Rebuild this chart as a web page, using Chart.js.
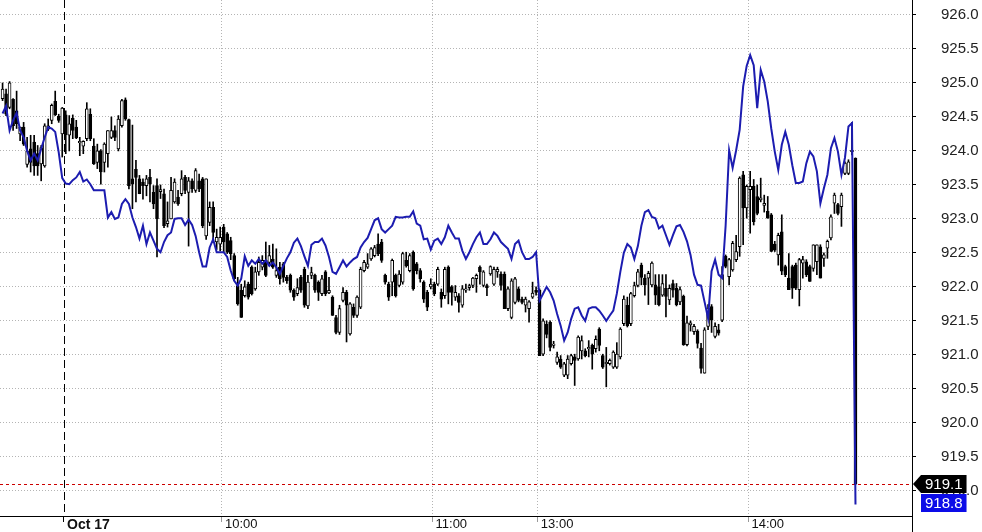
<!DOCTYPE html>
<html>
<head>
<meta charset="utf-8">
<script src="https://cdn.jsdelivr.net/npm/chart.js@4.4.1/dist/chart.umd.min.js"></script>
<style>
  html, body { margin: 0; padding: 0; background: #fff; }
  canvas { display: block; }
</style>
</head>
<body>
<canvas id="priceChart" width="982" height="532" style="width:982px;height:532px"></canvas>
<script>
// one bar per minute; index 0 is the 9:15 bar of Oct 17, negatives are the previous session
const firstBar = -18;

const openP = [
  924.77,924.84,924.64,924.76,924.59,924.25,924.35,923.80,924.03,924.13,
  923.96,923.81,923.78,924.32,924.45,924.73,924.51,924.25,924.53,924.23,
  924.48,924.35,924.12,924.07,924.18,924.54,924.07,923.83,924.00,923.83,
  923.96,924.20,924.30,924.03,924.37,924.75,924.46,923.59,923.73,923.59,
  923.54,923.49,923.61,923.39,923.49,923.40,923.37,922.93,923.00,923.25,
  923.32,923.37,923.61,923.39,923.56,923.42,923.56,923.59,922.75,922.95,
  923.17,922.66,922.63,922.88,922.78,922.68,922.46,922.02,921.95,921.87,
  922.04,922.29,921.97,922.22,922.29,922.39,922.36,922.41,922.17,922.29,
  922.34,922.14,922.17,921.95,921.90,922.14,922.26,921.72,922.17,922.17,
  922.07,921.90,922.22,921.91,921.85,921.55,921.33,921.80,921.92,921.31,
  921.70,921.58,921.70,922.24,922.29,922.41,922.46,922.63,922.66,922.17,
  922.04,922.07,922.17,922.02,922.07,922.39,922.24,922.51,922.34,922.24,
  922.07,921.92,922.00,922.04,922.04,921.92,921.87,922.29,922.00,921.85,
  921.87,921.73,921.95,921.99,922.02,922.12,922.29,922.02,922.02,922.19,
  922.04,922.22,922.19,922.19,921.68,921.55,921.77,921.97,921.82,921.73,
  921.68,921.85,921.95,921.95,921.01,921.45,921.48,921.14,920.89,920.94,
  920.70,920.70,920.87,920.97,920.94,921.06,921.06,921.09,921.14,921.09,
  921.38,920.99,920.87,920.87,920.82,920.82,920.97,921.46,921.73,921.46,
  921.87,922.02,922.32,922.13,922.13,922.03,922.03,922.00,921.88,921.98,
  921.81,922.05,921.98,921.78,921.86,921.15,921.44,921.34,921.35,921.10,
  920.73,921.42,921.71,921.27,921.37,921.51,922.45,922.15,922.25,922.40,
  922.59,923.65,923.16,923.43,923.48,923.33,923.28,923.20,923.11,923.06,
  922.63,922.47,922.81,922.30,922.13,922.30,922.32,921.96,922.35,922.37,
  922.30,922.27,922.37,922.59,922.42,922.57,922.72,923.23,923.21,923.18,
  923.67,923.67,923.99,923.89
];
const highP = [
  925.00,924.91,925.02,924.77,924.88,924.35,924.42,924.20,924.23,924.23,
  924.08,924.08,924.40,924.47,924.69,924.88,924.54,924.64,924.59,924.52,
  924.53,924.45,924.20,924.15,924.71,924.62,924.18,924.10,924.02,924.12,
  924.30,924.50,924.37,924.52,924.76,924.78,924.47,924.38,923.86,923.64,
  923.59,923.64,923.73,923.49,923.59,923.50,923.44,923.25,923.61,923.59,
  923.42,923.71,923.64,923.61,923.59,923.74,923.66,923.61,923.59,923.25,
  923.25,922.85,922.88,922.92,922.80,922.73,922.49,922.14,922.04,922.09,
  922.07,922.31,922.29,922.44,922.46,922.66,922.61,922.63,922.56,922.36,
  922.36,922.17,922.19,921.97,922.12,922.17,922.29,922.17,922.29,922.19,
  922.09,922.17,922.24,922.14,921.87,921.58,921.73,921.99,921.95,921.77,
  921.75,921.87,922.29,922.39,922.49,922.58,922.61,922.78,922.70,922.19,
  922.07,922.41,922.19,922.24,922.51,922.51,922.49,922.53,922.36,922.27,
  922.09,921.95,922.12,922.07,922.29,921.97,922.29,922.31,922.02,922.02,
  921.90,922.02,922.04,922.04,922.14,922.19,922.31,922.24,922.04,922.31,
  922.29,922.29,922.22,922.22,922.00,922.12,922.14,922.00,921.85,921.85,
  921.80,922.07,922.00,921.97,921.53,921.50,921.50,921.20,921.04,920.99,
  920.89,920.99,921.01,921.01,921.28,921.28,921.09,921.21,921.16,921.28,
  921.40,921.01,921.11,920.94,921.06,921.18,921.40,921.87,921.85,921.92,
  922.07,922.26,922.35,922.18,922.23,922.37,922.18,922.18,922.18,922.18,
  922.03,922.10,922.05,922.00,921.88,921.57,921.50,921.45,921.37,921.17,
  921.40,921.74,921.74,921.47,921.45,922.30,922.47,922.42,922.67,922.76,
  923.62,923.70,923.50,923.70,923.58,923.50,923.60,923.35,923.33,923.08,
  922.67,922.79,923.06,922.32,922.49,922.32,922.35,922.42,922.45,922.40,
  922.32,922.62,922.62,922.62,922.50,922.69,923.06,923.38,923.23,923.38,
  923.84,923.87,924.42,923.90
];
const lowP = [
  924.74,924.52,924.62,924.30,924.33,924.15,924.08,923.76,923.69,923.64,
  923.64,923.56,923.76,924.30,924.40,924.52,924.42,923.91,923.96,924.00,
  924.18,924.18,923.93,923.96,924.15,924.15,923.80,923.74,923.51,923.69,
  923.76,924.18,924.15,924.00,924.35,924.45,923.44,923.15,923.25,923.37,
  923.29,923.34,923.25,923.15,922.44,923.30,922.87,922.88,923.00,923.23,
  923.20,923.34,923.37,922.60,923.39,923.39,923.40,922.87,922.70,922.90,
  922.65,922.55,922.53,922.51,922.49,922.40,922.09,921.73,921.55,921.85,
  921.82,921.88,921.95,922.17,922.25,922.15,922.34,922.27,922.14,922.04,
  922.07,922.05,921.92,921.80,921.87,921.92,921.70,921.68,922.12,921.92,
  921.80,921.87,921.87,921.90,921.58,921.31,921.30,921.78,921.19,921.29,
  921.55,921.55,921.68,922.22,922.27,922.39,922.44,922.46,922.36,922.04,
  921.80,921.87,921.85,922.00,922.04,922.29,922.22,921.95,922.19,922.07,
  921.77,921.65,921.97,921.87,922.02,921.70,921.83,921.75,921.73,921.80,
  921.63,921.70,921.92,921.95,921.99,921.92,922.04,922.00,921.87,922.17,
  922.02,922.14,921.95,921.68,921.65,921.53,921.75,921.78,921.75,921.63,
  921.48,921.83,921.88,920.99,920.99,921.25,921.06,921.10,920.86,920.80,
  920.68,920.65,920.85,920.55,920.92,920.94,920.97,920.97,920.79,921.04,
  921.06,920.80,920.53,920.85,920.80,920.80,920.94,921.43,921.41,921.43,
  921.85,922.00,922.03,921.88,921.74,922.00,921.74,921.72,921.86,921.56,
  921.74,921.85,921.72,921.74,921.14,921.13,921.35,921.30,921.10,920.73,
  920.73,921.37,921.33,921.25,921.29,921.49,922.28,922.03,922.23,922.37,
  922.45,922.62,923.01,922.79,922.91,923.06,923.25,923.10,923.01,922.52,
  922.52,922.32,922.18,922.15,921.96,921.83,921.96,921.72,922.13,922.15,
  922.08,922.23,922.18,922.13,922.30,922.42,922.69,923.08,923.06,922.89,
  923.65,923.65,923.94,919.10
];
const closeP = [
  924.91,924.54,925.00,924.37,924.40,924.35,924.10,924.00,923.83,923.78,
  923.78,924.05,924.37,924.37,924.67,924.53,924.45,924.63,924.24,924.40,
  924.30,924.19,924.14,924.14,924.62,924.18,923.81,924.00,923.69,924.10,
  924.30,924.30,924.20,924.47,924.74,924.47,923.49,923.51,923.61,923.37,
  923.49,923.59,923.51,923.22,923.00,923.43,922.90,922.97,923.42,923.54,
  923.22,923.59,923.42,923.56,923.44,923.71,923.44,922.90,923.59,923.17,
  922.80,922.73,922.73,922.66,922.51,922.49,922.12,921.75,921.55,922.00,
  921.85,921.90,922.22,922.36,922.39,922.17,922.46,922.29,922.24,922.12,
  922.14,922.09,921.95,921.85,921.99,921.95,921.73,922.07,922.21,921.95,
  921.92,922.12,921.90,921.95,921.58,921.33,921.68,921.92,921.73,921.75,
  921.58,921.85,922.26,922.36,922.34,922.56,922.58,922.49,922.39,922.07,
  921.85,922.39,921.87,922.19,922.49,922.31,922.46,921.97,922.24,922.12,
  921.82,921.70,922.04,921.90,922.26,921.82,922.26,921.92,921.92,921.92,
  921.77,921.97,921.97,922.02,922.13,922.17,922.22,922.22,921.99,922.30,
  922.26,922.26,922.02,921.68,921.97,922.09,922.12,921.80,921.77,921.82,
  921.78,921.91,921.92,920.99,921.50,921.30,921.11,921.16,920.97,920.82,
  920.87,920.94,920.99,920.92,921.26,921.21,920.99,921.11,921.01,921.23,
  921.14,920.82,920.89,920.92,921.04,921.01,921.38,921.82,921.43,921.90,
  922.02,922.22,922.14,922.03,922.20,922.35,921.88,921.74,922.05,921.86,
  921.98,921.95,921.74,921.96,921.15,921.47,921.47,921.42,921.17,920.80,
  921.37,921.69,921.51,921.42,921.32,922.18,922.30,922.40,922.64,922.52,
  923.60,923.16,923.48,923.48,922.96,923.08,923.31,923.23,923.01,922.52,
  922.54,922.76,922.23,922.18,921.96,921.98,921.98,922.40,922.40,922.18,
  922.08,922.62,922.62,922.13,922.47,922.67,923.03,923.35,923.08,923.35,
  923.82,923.84,924.01,919.10
];
// comparison line (blue), same minutes as the bars
const blueLine = [
  924.55,924.66,924.30,924.45,924.56,924.30,924.20,924.00,923.86,923.96,
  923.86,924.03,924.20,924.35,924.33,924.28,923.98,923.60,923.52,923.51,
  923.57,923.61,923.69,923.55,923.58,923.51,923.42,923.42,923.42,923.42,
  923.02,923.10,923.00,923.02,923.22,923.29,923.22,923.02,922.88,922.71,
  922.90,922.63,922.80,922.68,922.56,922.51,922.66,922.76,922.80,923.00,
  923.01,923.01,922.91,922.99,922.91,922.75,922.51,922.30,922.30,922.58,
  922.70,922.51,922.51,922.51,922.44,922.24,922.09,922.02,922.12,922.45,
  922.31,922.39,922.34,922.41,922.34,922.39,922.31,922.36,922.29,922.19,
  922.31,922.42,922.51,922.65,922.71,922.60,922.45,922.31,922.62,922.66,
  922.66,922.71,922.61,922.44,922.22,922.19,922.29,922.39,922.30,922.36,
  922.41,922.44,922.58,922.66,922.72,922.85,922.98,923.01,922.85,922.80,
  922.85,922.90,923.03,923.02,923.02,923.03,923.03,923.11,922.93,922.90,
  922.70,922.71,922.55,922.68,922.71,922.63,922.73,922.90,922.80,922.71,
  922.71,922.53,922.41,922.51,922.63,922.73,922.80,922.63,922.63,922.70,
  922.80,922.75,922.66,922.61,922.56,922.41,922.63,922.68,922.51,922.41,
  922.41,922.44,922.51,921.80,921.90,922.00,921.92,921.80,921.60,921.43,
  921.21,921.33,921.53,921.68,921.70,921.58,921.50,921.68,921.70,921.70,
  921.65,921.58,921.50,921.58,921.65,921.90,922.22,922.50,922.63,922.58,
  922.41,922.60,922.90,923.10,923.13,923.03,923.01,922.86,922.90,922.76,
  922.62,922.76,922.89,922.91,922.81,922.67,922.47,922.18,922.03,922.02,
  921.78,921.54,922.23,922.40,922.18,922.13,922.90,924.01,923.75,924.01,
  924.31,924.95,925.25,925.41,925.26,924.63,925.19,925.02,924.73,924.33,
  923.99,923.72,924.09,924.28,924.09,923.79,923.53,923.53,923.55,923.82,
  923.99,923.92,923.70,923.23,923.45,923.65,924.04,924.19,923.99,923.65,
  923.90,924.36,924.41,918.80
];

const xTickPos = [-0.5, 44.5, 104.5, 134.5, 194.5];
const xTickLabels = ["Oct 17", "10:00", "11:00", "13:00", "14:00"];
const yTickValues = [919.0, 919.5, 920.0, 920.5, 921.0, 921.5, 922.0, 922.5,
                     923.0, 923.5, 924.0, 924.5, 925.0, 925.5, 926.0];

const FONT = '"Liberation Sans", Arial, sans-serif';

const wicks = [], bodies = [], overlay = [];
for (let k = 0; k < openP.length; k++) {
  const x = firstBar + k;
  wicks.push({ x, y: [lowP[k], highP[k]] });
  bodies.push({ x, y: [openP[k], closeP[k]] });
  overlay.push({ x, y: blueLine[k] });
}
const bodyFill = openP.map((o, k) => closeP[k] >= o ? "#ffffff" : "#000000");

function priceTag(ctx, left, yc, text, fill, arrow) {
  ctx.font = "15px " + FONT;
  const w = ctx.measureText(text).width + 8;
  const h = 18;
  const top = Math.round(yc - h / 2);
  ctx.fillStyle = fill;
  ctx.fillRect(left + 8, top, w, h);
  if (arrow) {
    ctx.beginPath();
    ctx.moveTo(left, yc);
    ctx.lineTo(left + 8, top);
    ctx.lineTo(left + 8, top + h);
    ctx.closePath();
    ctx.fill();
  }
  ctx.fillStyle = "#fff";
  ctx.textAlign = "left";
  ctx.textBaseline = "middle";
  ctx.fillText(text, left + 12, top + h / 2 + 1);
}

const extras = {
  id: "extras",
  beforeDatasetsDraw(chart) {
    const { ctx, chartArea: a, scales: { x, y } } = chart;
    ctx.save();
    ctx.lineWidth = 1;
    // session start marker
    const sx = Math.round(x.getPixelForValue(xTickPos[0])) + 0.5;
    ctx.strokeStyle = "#000";
    ctx.setLineDash([8, 4]);
    ctx.beginPath();
    ctx.moveTo(sx, a.top);
    ctx.lineTo(sx, a.bottom);
    ctx.stroke();
    // last close
    const ly = Math.round(y.getPixelForValue(closeP[closeP.length - 1])) + 0.5;
    ctx.strokeStyle = "#cc0000";
    ctx.setLineDash([3, 3]);
    ctx.beginPath();
    ctx.moveTo(a.left, ly);
    ctx.lineTo(a.right, ly);
    ctx.stroke();
    ctx.restore();
  },
  afterDraw(chart) {
    const { ctx, chartArea: a, scales: { y } } = chart;
    ctx.save();
    ctx.strokeStyle = "#000";
    ctx.lineWidth = 1;
    ctx.setLineDash([]);
    ctx.beginPath();
    ctx.moveTo(a.left, a.bottom + 0.5);
    ctx.lineTo(a.right, a.bottom + 0.5);
    ctx.moveTo(a.right + 0.5, a.top);
    ctx.lineTo(a.right + 0.5, chart.height);
    ctx.stroke();

    const lastClose = closeP[closeP.length - 1];
    const lastBlue = blueLine[blueLine.length - 1];
    priceTag(ctx, a.right + 1, y.getPixelForValue(lastClose), lastClose.toFixed(1), "#000", true);
    priceTag(ctx, a.right + 1, y.getPixelForValue(lastBlue) - 1, lastBlue.toFixed(1), "#0c0ce8", false);
    ctx.restore();
  }
};

new Chart(document.getElementById("priceChart"), {
  type: "bar",
  data: {
    datasets: [
      {
        type: "line",
        data: overlay,
        borderColor: "#1c1cb0",
        borderWidth: 2,
        pointRadius: 0,
        tension: 0,
        fill: false,
        order: 0
      },
      {
        data: bodies,
        backgroundColor: bodyFill,
        borderColor: "#000",
        borderWidth: 1,
        borderSkipped: false,
        barThickness: 3,
        minBarLength: 1,
        grouped: false,
        order: 1
      },
      {
        data: wicks,
        backgroundColor: "#000",
        borderWidth: 0,
        barThickness: 1,
        grouped: false,
        order: 2
      }
    ]
  },
  options: {
    responsive: false,
    devicePixelRatio: 1,
    animation: false,
    events: [],
    layout: { padding: 0 },
    plugins: { legend: { display: false }, tooltip: { enabled: false } },
    scales: {
      x: {
        type: "linear",
        min: -18.73,
        max: 241.1,
        offset: false,
        afterBuildTicks: s => { s.ticks = xTickPos.map(v => ({ value: v })); },
        afterFit: s => { s.height = 16; s.paddingLeft = 0; s.paddingRight = 0; },
        grid: {
          offset: false,
          color: c => c.index === 0 ? "rgba(0,0,0,0)" : "#b4b4b4",
          tickColor: c => c.index === 0 ? "#000" : "#999",
          tickLength: 6
        },
        border: { display: false, dash: [1, 2] },
        ticks: {
          autoSkip: false,
          maxRotation: 0,
          minRotation: 0,
          align: "start",
          labelOffset: 3,
          padding: -5,
          color: "#111",
          font: c => ({ family: FONT, size: c.index === 0 ? 14 : 13, weight: c.index === 0 ? "bold" : "normal" }),
          callback: (v, i) => xTickLabels[i]
        }
      },
      y: {
        position: "right",
        min: 918.63,
        max: 926.22,
        afterBuildTicks: s => { s.ticks = yTickValues.map(v => ({ value: v })); },
        afterFit: s => { s.width = 70; s.paddingTop = 0; s.paddingBottom = 0; },
        grid: { color: "#b4b4b4", tickColor: "#000", tickLength: 4 },
        border: { display: false, dash: [1, 2] },
        ticks: {
          padding: 25,
          color: "#222",
          font: { family: FONT, size: 15 },
          callback: v => v.toFixed(1)
        }
      }
    }
  },
  plugins: [extras]
});
</script>
</body>
</html>
